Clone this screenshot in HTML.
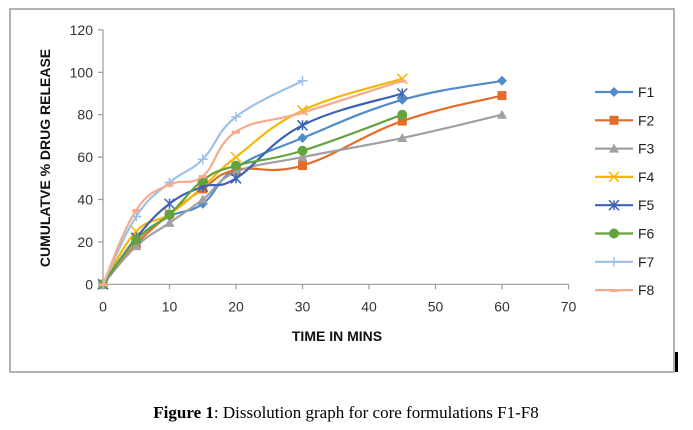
<!DOCTYPE html>
<html><head><style>
body{margin:0;background:#fff;width:693px;height:430px;overflow:hidden}
svg{position:absolute;left:0;top:0}
text{font-family:"Liberation Sans",sans-serif}
</style></head><body>
<svg id="s" width="693" height="430" xmlns="http://www.w3.org/2000/svg">
<rect x="10" y="9" width="664" height="363" fill="#fff" stroke="#999" stroke-width="1.5"/>
<rect x="675" y="352" width="3" height="20" fill="#000"/>
<g id="axes" stroke="#999" stroke-width="1.2" fill="none"></g>
<g id="lab" font-size="14" fill="#333"></g>
<text x="337" y="341" font-size="14" font-weight="bold" text-anchor="middle" fill="#111">TIME IN MINS</text>
<text transform="translate(50,158) rotate(-90)" font-size="14" font-weight="bold" text-anchor="middle" fill="#111">CUMULATVE % DRUG RELEASE</text>
<g id="series"></g>
<g id="leg" font-size="14" fill="#222"></g>
<text x="346" y="418" font-size="17" text-anchor="middle" style="font-family:'Liberation Serif',serif"><tspan font-weight="bold">Figure 1</tspan>: Dissolution graph for core formulations F1-F8</text>
</svg>
<script>
var NS="http://www.w3.org/2000/svg",s=document.getElementById('s');
function el(t,a,p){var e=document.createElementNS(NS,t);for(var k in a)e.setAttribute(k,a[k]);(p||s).appendChild(e);return e}
var X=function(v){return 103+v*6.65},Y=function(v){return 284.3-v*2.12};
var ax=document.getElementById('axes'),lab=document.getElementById('lab');
el('line',{x1:103,y1:Y(120),x2:103,y2:Y(0)},ax);el('line',{x1:103,y1:Y(0),x2:X(70),y2:Y(0)},ax);
for(var i=0;i<=120;i+=20){el('line',{x1:98,y1:Y(i),x2:103,y2:Y(i)},ax);var t=el('text',{x:93,y:Y(i)+5,'text-anchor':'end'},lab);t.textContent=i;}
for(var i=0;i<=70;i+=10){el('line',{x1:X(i),y1:Y(0),x2:X(i),y2:Y(0)+5},ax);var t=el('text',{x:X(i),y:Y(0)+27,'text-anchor':'middle'},lab);t.textContent=i;}
var D=[
["F1","#4f8cc9","d",[[0,0],[5,21],[10,32],[15,38],[20,55],[30,69],[45,87],[60,96]]],
["F2","#e46c28","s",[[0,0],[5,19],[10,33],[15,45],[20,54],[30,56],[45,77],[60,89]]],
["F3","#a0a0a0","t",[[0,0],[5,18],[10,29],[15,40],[20,53],[30,60],[45,69],[60,80]]],
["F4","#f5b800","x",[[0,0],[5,25],[10,33],[15,46],[20,60],[30,82],[45,97]]],
["F5","#3d62b5","a",[[0,0],[5,22],[10,38],[15,46],[20,50],[30,75],[45,90]]],
["F6","#62a33e","c",[[0,0],[5,21],[10,33],[15,49],[20,56],[30,63],[45,80]]],
["F7","#9cc0e8","p",[[0,0],[5,32],[10,48],[15,59],[20,79],[30,96]]],
["F8","#f4ab8e","m",[[0,0],[5,35],[10,47],[15,51],[20,72],[30,81],[45,96]]]];
var g=document.getElementById('series'),lg=document.getElementById('leg');
function mk(type,x,y,c,p){
 if(type=='d')el('path',{d:'M'+x+' '+(y-5)+'L'+(x+5)+' '+y+'L'+x+' '+(y+5)+'L'+(x-5)+' '+y+'Z',fill:c},p);
 else if(type=='s')el('rect',{x:x-4.5,y:y-4.5,width:9,height:9,fill:c},p);
 else if(type=='t')el('path',{d:'M'+x+' '+(y-5)+'L'+(x+5)+' '+(y+4)+'L'+(x-5)+' '+(y+4)+'Z',fill:c},p);
 else if(type=='x')el('path',{d:'M'+(x-5)+' '+(y-5)+'L'+(x+5)+' '+(y+5)+'M'+(x+5)+' '+(y-5)+'L'+(x-5)+' '+(y+5),stroke:c,'stroke-width':1.5},p);
 else if(type=='a')el('path',{d:'M'+(x-5)+' '+(y-5)+'L'+(x+5)+' '+(y+5)+'M'+(x+5)+' '+(y-5)+'L'+(x-5)+' '+(y+5)+'M'+x+' '+(y-5)+'L'+x+' '+(y+5),stroke:c,'stroke-width':1.5},p);
 else if(type=='c')el('circle',{cx:x,cy:y,r:5,fill:c},p);
 else if(type=='p')el('path',{d:'M'+(x-5)+' '+y+'L'+(x+5)+' '+y+'M'+x+' '+(y-5)+'L'+x+' '+(y+5),stroke:c,'stroke-width':1.5},p);
 else if(type=='m')el('rect',{x:x-4,y:y-1,width:8,height:3,fill:c},p);
}
D.forEach(function(s,k){
 var P=s[3].map(function(q){return [X(q[0]),Y(q[1])]}),d='M'+P[0][0]+' '+P[0][1];
 for(var i=0;i<P.length-1;i++){var p0=P[i-1]||P[i],p1=P[i],p2=P[i+1],p3=P[i+2]||p2,t=0.2;
  d+='C'+(p1[0]+(p2[0]-p0[0])*t)+' '+(p1[1]+(p2[1]-p0[1])*t)+' '+(p2[0]-(p3[0]-p1[0])*t)+' '+(p2[1]-(p3[1]-p1[1])*t)+' '+p2[0]+' '+p2[1];}
 el('path',{d:d,fill:'none',stroke:s[1],'stroke-width':2.2},g);
 P.forEach(function(p){mk(s[2],p[0],p[1],s[1],g)});
 var ly=92+k*28.3;
 el('line',{x1:595,y1:ly,x2:633,y2:ly,stroke:s[1],'stroke-width':2.2},lg);
 mk(s[2],614,ly,s[1],lg);
 var t=el('text',{x:638,y:ly+5},lg);t.textContent=s[0];
});
</script>
</body></html>
